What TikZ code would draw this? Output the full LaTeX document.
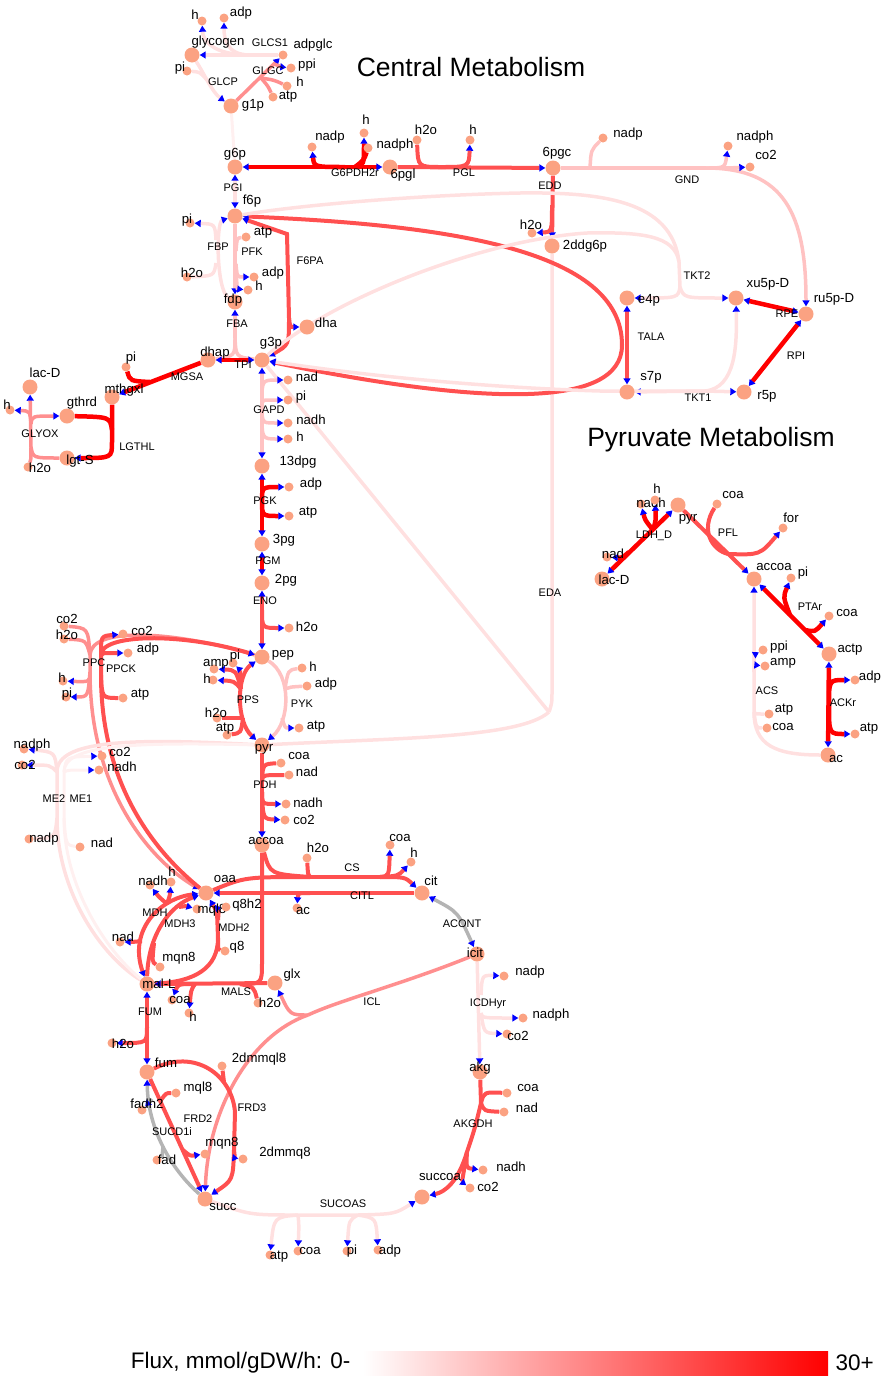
\documentclass[tikz,border=0pt]{standalone}
\usepackage{fontspec}
\setmainfont{Liberation Sans}
\usetikzlibrary{arrows.meta}
\pgfdeclarelayer{bg}
\pgfsetlayers{bg,main}

\definecolor{cA}{HTML}{FF0000}
\definecolor{cB}{HTML}{FF5050}
\definecolor{cC}{HTML}{FF8F8F}
\definecolor{cD}{HTML}{FFC2C2}
\definecolor{cE}{HTML}{FFE0E0}
\definecolor{cF}{HTML}{FFF0F0}
\definecolor{cG}{HTML}{B4B4B4}
\definecolor{metfill}{HTML}{FBA282}
\definecolor{tipblue}{HTML}{0000FF}

\tikzset{
  bigmet/.style={circle,fill=metfill,inner sep=0pt,minimum size=15pt},
  smallmet/.style={circle,fill=metfill,inner sep=0pt,minimum size=9pt},
  mlab/.style={inner sep=0pt,font=\fontsize{13.2}{14}\selectfont},
  rlab/.style={inner sep=0pt,font=\fontsize{11}{12}\selectfont},
  fA/.style={draw=cA,line width=4.5pt},
  fB/.style={draw=cB,line width=4pt},
  fC/.style={draw=cC,line width=3.5pt},
  fD/.style={draw=cD,line width=3.5pt},
  fE/.style={draw=cE,line width=3.5pt},
  fF/.style={draw=cF,line width=3pt},
  fG/.style={draw=cG,line width=3.5pt},
  ar/.style={-{Triangle[length=6pt,width=7pt,color=tipblue]}},
  ra/.style={{Triangle[length=6pt,width=7pt,color=tipblue]}-},
  rr/.style={{Triangle[length=6pt,width=7pt,color=tipblue]}-{Triangle[length=6pt,width=7pt,color=tipblue]}},
}

\newcommand{\metbig}[4]{\node[bigmet] (#1) at (#2) {};\node[mlab] (#1-t) at (#3) {#4};}
\newcommand{\metsmall}[4]{\node[smallmet] (#1) at (#2) {};\node[mlab] (#1-t) at (#3) {#4};}
\newcommand{\rxnlab}[3]{\node[rlab] (#1) at (#2) {#3};}

\begin{document}
\begin{tikzpicture}[x=1pt,y=-1pt]
\useasboundingbox (0,0) rectangle (883,1379);

% ---------- titles ----------
\node[font=\fontsize{26.5}{28}\selectfont] (title-c) at (471,67) {Central Metabolism};
\node[font=\fontsize{26.5}{28}\selectfont] (title-p) at (711,440) {Pyruvate Metabolism};

% ---------- metabolites ----------
% glycogen
\metbig{glycogen}{192,55}{218,42}{glycogen}
\metsmall{hA}{202,21}{195,15}{h}
\metsmall{adpA}{224,18}{241,13}{adp}
\metsmall{adpglc}{283,55}{313,45}{adpglc}
\metsmall{piA}{187,71}{180,68}{pi}
\metsmall{ppiA}{291,68}{307,65}{ppi}
\metsmall{hB}{287,86}{300,82}{h}
\metsmall{atpA}{273,97}{288,97}{atp}
\metbig{g1p}{231,106}{253,105}{g1p}
% oxidative PPP
\metbig{g6p}{235,167}{235,154}{g6p}
\metsmall{nadpA}{312,147}{330,137}{nadp}
\metsmall{hC}{364,133}{366,120}{h}
\metsmall{nadphA}{368,148}{395,145}{nadph}
\metbig{m6pgl}{390,167}{403,175}{6pgl}
\metsmall{h2oA}{417,140}{426,130}{h2o}
\metsmall{hD}{470,140}{473,130}{h}
\metbig{m6pgc}{553,168}{557,153}{6pgc}
\metsmall{nadpB}{603,138}{628,134}{nadp}
\metsmall{nadphB}{728,146}{755,137}{nadph}
\metsmall{co2A}{750,167}{766,155}{co2}
\metsmall{h2oB}{532,233}{531,225}{h2o}
\metbig{m2ddg6p}{552,246}{585,246}{2ddg6p}
% upper glycolysis
\metbig{f6p}{235,216}{252,201}{f6p}
\metsmall{piB}{190,223}{187,220}{pi}
\metsmall{atpB}{246,237}{263,233}{atp}
\metsmall{h2oC}{187,277}{192,273}{h2o}
\metsmall{adpB}{254,277}{273,273}{adp}
\metsmall{hE}{248,290}{259,286}{h}
\metbig{fdp}{235,302}{233,300}{fdp}
\metbig{dha}{307,327}{326,323}{dha}
\metbig{dhap}{208,360}{215,353}{dhap}
\metbig{g3p}{262,360}{271,343}{g3p}
% methylglyoxal pathway
\metbig{mthgxl}{112,397}{124,390}{mthgxl}
\metsmall{piC}{126,367}{131,358}{pi}
\metbig{lacDA}{30,387}{45,373}{lac-D}
\metsmall{hF}{10,410}{7,405}{h}
\metbig{gthrd}{67,416}{82,403}{gthrd}
\metbig{lgtS}{67,458}{80,461}{lgt-S}
\metsmall{h2oD}{28,467}{40,468}{h2o}
% non-oxidative PPP
\metbig{e4p}{627,298}{649,300}{e4p}
\metbig{s7p}{627,392}{651,377}{s7p}
\metbig{xu5p}{736,298}{768,284}{xu5p-D}
\metbig{ru5p}{806,314}{834,299}{ru5p-D}
\metbig{r5p}{744,392}{767,396}{r5p}
% lower glycolysis
\metsmall{nadA}{288,380}{307,377}{nad}
\metsmall{piD}{288,400}{301,397}{pi}
\metsmall{nadhA}{288,423}{311,420}{nadh}
\metsmall{hG}{288,439}{300,437}{h}
\metbig{m13dpg}{262,466}{298,462}{13dpg}
\metsmall{adpC}{289,487}{311,484}{adp}
\metsmall{atpC}{289,516}{308,513}{atp}
\metbig{m3pg}{262,544}{284,540}{3pg}
\metbig{m2pg}{262,583}{286,580}{2pg}
\metsmall{h2oE}{289,628}{307,627}{h2o}
\metbig{pep}{262,657}{283,655}{pep}
\metsmall{hH}{302,668}{313,667}{h}
\metsmall{adpD}{307,686}{326,684}{adp}
\metsmall{atpD}{299,728}{316,727}{atp}
\metsmall{piE}{233,663}{235,656}{pi}
\metsmall{ampA}{214,669}{216,664}{amp}
\metsmall{hI}{213,680}{207,679}{h}
\metsmall{h2oF}{217,718}{216,713}{h2o}
\metsmall{atpE}{227,735}{225,729}{atp}
\metbig{pyr}{262,745}{264,749}{pyr}
\metsmall{coaA}{281,763}{299,756}{coa}
\metsmall{nadB}{289,775}{307,772}{nad}
\metsmall{nadhB}{286,804}{308,803}{nadh}
\metsmall{co2B}{285,820}{304,820}{co2}
\metbig{accoa}{262,845}{266,841}{accoa}
% anaplerotic
\metsmall{co2C}{64,626}{67,619}{co2}
\metsmall{h2oG}{64,639}{67,635}{h2o}
\metsmall{hJ}{63,681}{62,678}{h}
\metsmall{piF}{66,697}{67,694}{pi}
\metsmall{co2D}{123,634}{142,631}{co2}
\metsmall{adpE}{128,653}{148,649}{adp}
\metsmall{atpF}{123,698}{140,695}{atp}
\metsmall{nadphC}{24,749}{32,745}{nadph}
\metsmall{co2E}{22,765}{25,765}{co2}
\metsmall{nadpC}{29,839}{44,839}{nadp}
\metsmall{co2F}{102,756}{120,752}{co2}
\metsmall{nadhC}{99,770}{122,767}{nadh}
\metsmall{nadC}{80,847}{102,843}{nad}
% TCA cycle
\metbig{oaa}{206,893}{225,879}{oaa}
\metsmall{h2oH}{307,858}{318,848}{h2o}
\metsmall{coaB}{390,845}{400,838}{coa}
\metsmall{hK}{411,862}{414,853}{h}
\metbig{cit}{422,893}{431,881}{cit}
\metsmall{acA}{297,908}{303,911}{ac}
\metsmall{hL}{171,882}{172,872}{h}
\metsmall{nadhD}{150,885}{153,881}{nadh}
\metsmall{mql8A}{197,909}{212,910}{mql8}
\metsmall{q8h2}{226,907}{247,905}{q8h2}
\metsmall{nadD}{120,942}{123,937}{nad}
\metsmall{mqn8A}{160,967}{179,958}{mqn8}
\metsmall{q8}{225,951}{237,947}{q8}
\metbig{malL}{147,984}{159,984}{mal-L}
\metsmall{coaC}{172,1000}{180,1000}{coa}
\metsmall{hM}{189,1013}{193,1017}{h}
\metsmall{h2oI}{258,1003}{270,1003}{h2o}
\metbig{glx}{275,983}{292,975}{glx}
\metbig{icit}{477,954}{475,953}{icit}
\metsmall{nadpD}{504,976}{530,972}{nadp}
\metsmall{nadphD}{523,1018}{551,1015}{nadph}
\metsmall{co2G}{507,1034}{518,1036}{co2}
\metbig{akg}{480,1072}{480,1068}{akg}
\metsmall{coaE}{507,1093}{528,1088}{coa}
\metsmall{nadE}{504,1112}{527,1108}{nad}
\metsmall{nadhE}{483,1170}{511,1167}{nadh}
\metsmall{co2H}{470,1188}{488,1187}{co2}
\metbig{succoa}{422,1197}{440,1177}{succoa}
\metsmall{h2oJ}{112,1043}{123,1044}{h2o}
\metbig{fum}{147,1072}{166,1063}{fum}
\metsmall{m2dmmql8}{222,1066}{259,1059}{2dmmql8}
\metsmall{mql8B}{176,1093}{198,1088}{mql8}
\metsmall{fadh2}{142,1110}{147,1104}{fadh2}
\metsmall{mqn8B}{205,1154}{222,1143}{mqn8}
\metsmall{fad}{157,1160}{167,1160}{fad}
\metsmall{m2dmmq8}{243,1159}{285,1153}{2dmmq8}
\metbig{succ}{205,1199}{223,1207}{succ}
\metsmall{atpG}{270,1255}{279,1257}{atp}
\metsmall{coaD}{298,1251}{310,1251}{coa}
\metsmall{piG}{347,1251}{352,1251}{pi}
\metsmall{adpF}{378,1250}{390,1251}{adp}
% pyruvate metabolism
\metbig{pyrB}{678,505}{688,519}{pyr}
\metsmall{nadhF}{641,504}{651,503}{nadh}
\metsmall{hN}{655,500}{657,489}{h}
\metsmall{nadF}{607,557}{613,554}{nad}
\metbig{lacDB}{602,579}{614,580}{lac-D}
\metsmall{coaF}{717,504}{733,495}{coa}
\metsmall{forA}{783,528}{791,518}{for}
\metbig{accoaB}{754,579}{774,567}{accoa}
\metsmall{piH}{791,578}{803,573}{pi}
\metsmall{coaG}{829,616}{847,613}{coa}
\metbig{actp}{829,654}{850,650}{actp}
\metsmall{adpG}{855,680}{870,677}{adp}
\metsmall{atpH}{855,734}{869,729}{atp}
\metbig{acB}{828,755}{836,759}{ac}
\metsmall{ppiB}{763,650}{779,647}{ppi}
\metsmall{ampB}{765,666}{783,663}{amp}
\metsmall{atpI}{769,714}{784,710}{atp}
\metsmall{coaH}{767,728}{783,727}{coa}

% ---------- reaction labels ----------
\rxnlab{r-GLCS1}{270,43}{GLCS1}
\rxnlab{r-GLGC}{268,71}{GLGC}
\rxnlab{r-GLCP}{223,82}{GLCP}
\rxnlab{r-G6PDH2r}{355,173}{G6PDH2r}
\rxnlab{r-PGL}{464,173}{PGL}
\rxnlab{r-EDD}{550,186}{EDD}
\rxnlab{r-GND}{687,180}{GND}
\rxnlab{r-PGI}{233,188}{PGI}
\rxnlab{r-FBP}{218,247}{FBP}
\rxnlab{r-PFK}{252,252}{PFK}
\rxnlab{r-F6PA}{310,261}{F6PA}
\rxnlab{r-FBA}{237,324}{FBA}
\rxnlab{r-TPI}{243,365}{TPI}
\rxnlab{r-MGSA}{187,377}{MGSA}
\rxnlab{r-GLYOX}{40,434}{GLYOX}
\rxnlab{r-LGTHL}{137,447}{LGTHL}
\rxnlab{r-TALA}{651,337}{TALA}
\rxnlab{r-TKT2}{697,276}{TKT2}
\rxnlab{r-TKT1}{698,398}{TKT1}
\rxnlab{r-RPE}{787,314}{RPE}
\rxnlab{r-RPI}{796,356}{RPI}
\rxnlab{r-GAPD}{269,410}{GAPD}
\rxnlab{r-PGK}{265,501}{PGK}
\rxnlab{r-PGM}{268,561}{PGM}
\rxnlab{r-ENO}{265,601}{ENO}
\rxnlab{r-EDA}{550,593}{EDA}
\rxnlab{r-PYK}{302,704}{PYK}
\rxnlab{r-PPS}{248,700}{PPS}
\rxnlab{r-PDH}{265,785}{PDH}
\rxnlab{r-PPC}{94,663}{PPC}
\rxnlab{r-PPCK}{121,669}{PPCK}
\rxnlab{r-ME2}{54,799}{ME2}
\rxnlab{r-ME1}{81,799}{ME1}
\rxnlab{r-CS}{352,868}{CS}
\rxnlab{r-CITL}{362,896}{CITL}
\rxnlab{r-ACONT}{462,924}{ACONT}
\rxnlab{r-MDH}{155,913}{MDH}
\rxnlab{r-MDH3}{180,924}{MDH3}
\rxnlab{r-MDH2}{234,928}{MDH2}
\rxnlab{r-MALS}{236,992}{MALS}
\rxnlab{r-ICL}{372,1002}{ICL}
\rxnlab{r-ICDHyr}{488,1004}{ICDHyr}
\rxnlab{r-AKGDH}{473,1124}{AKGDH}
\rxnlab{r-FUM}{150,1012}{FUM}
\rxnlab{r-FRD2}{198,1119}{FRD2}
\rxnlab{r-FRD3}{252,1108}{FRD3}
\rxnlab{r-SUCD1i}{172,1132}{SUCD1i}
\rxnlab{r-SUCOAS}{343,1204}{SUCOAS}
\rxnlab{r-LDHD}{654,536}{LDH\_D}
\rxnlab{r-PFL}{728,533}{PFL}
\rxnlab{r-PTAr}{810,607}{PTAr}
\rxnlab{r-ACKr}{843,703}{ACKr}
\rxnlab{r-ACS}{767,691}{ACS}

% ---------- flux scale ----------
\node[anchor=east,font=\fontsize{22.5}{24}\selectfont] (scale-t) at (354,1363) {Flux, mmol/gDW/h: 0-};
\shade[left color=white,right color=cA] (363,1351) rectangle (828,1375);
\node[anchor=west,font=\fontsize{22.5}{24}\selectfont] (scale-m) at (832,1363) {30+};

% ---------- reactions ----------
\begin{pgfonlayer}{bg}
% glycogen metabolism
\coordinate (glcsA) at (250,55);
\draw[fE,ar] (adpglc) -- (glycogen);
\draw[fE,ar] (glcsA) .. controls (226,55) and (224,38) .. (adpA);
\draw[fE,ar] (glcsA) .. controls (212,55) and (203,40) .. (hA);
\coordinate (glgcA) at (261,78); \coordinate (glgcB) at (274,64);
\draw[fC,ar] (g1p) -- (adpglc);
\draw[fC] (atpA) .. controls (268,86) .. (glgcA);
\draw[fC] (hB) .. controls (274,80) .. (glgcA);
\draw[fC,ar] (glgcB) .. controls (282,67) .. (ppiA);
\coordinate (glcpA) at (207,80);
\draw[fE,ar] (glycogen) .. controls (205,75) and (212,92) .. (g1p);
\draw[fE] (piA) .. controls (200,72) .. (glcpA);
\draw[fF] (g1p) -- (g6p);
% G6PDH2r
\coordinate (gpdA) at (345,167); \coordinate (gpdB) at (355,167);
\draw[fA,rr] (g6p) -- (m6pgl);
\draw[fA,ar] (gpdA) .. controls (314,167) .. (nadpA);
\draw[fA,ar] (gpdB) .. controls (364,165) .. (hC);
\draw[fA] (gpdB) .. controls (364,160) .. (nadphA);
% PGL
\coordinate (pglA) at (441,167);
\draw[fB,ar] (m6pgl) -- (m6pgc);
\draw[fB] (h2oA) .. controls (418,167) .. (pglA);
\draw[fB,ar] (pglA) .. controls (469,167) .. (hD);
% GND
\coordinate (gndA) at (590,168); \coordinate (gndB) at (706,168);
\draw[fD] (m6pgc) -- (gndB);
\draw[fD,ar] (gndB) .. controls (785,168) and (806,215) .. (ru5p);
\draw[fD] (gndA) .. controls (591,150) .. (nadpB);
\draw[fD,ar] (gndB) .. controls (725,168) .. (nadphB);
\draw[fD,ar] (gndB) .. controls (728,168) .. (co2A);
% EDD and EDA
\coordinate (eddA) at (552,205);
\draw[fB,ar] (m6pgc) -- (m2ddg6p);
\draw[fB,ar] (eddA) .. controls (552,232) .. (h2oB);
\coordinate (edaA) at (549,712); \coordinate (edaB) at (552,690);
\draw[fE] (m2ddg6p) -- (edaB) .. controls (552,703) .. (edaA);
\draw[fE] (edaA) -- (g3p);
\draw[fE] (edaA) .. controls (520,738) and (400,738) .. (pyr);
% PGI
\draw[fE,rr] (g6p) -- (f6p);
% PFK
\coordinate (pfkA) at (236,251); \coordinate (pfkB) at (236,264);
\draw[fD,ar] (f6p) -- (fdp);
\draw[fD] (atpB) .. controls (237,238) .. (pfkA);
\draw[fD,ar] (pfkB) .. controls (237,277) .. (adpB);
\draw[fD,ar] (pfkB) .. controls (237,289) .. (hE);
% FBP
\coordinate (fbpA) at (216,240); \coordinate (fbpB) at (216,263);
\draw[fE,ar] (fdp) .. controls (216,290) and (216,222) .. (f6p);
\draw[fE,ar] (fbpA) .. controls (215,224) .. (piB);
\draw[fE] (h2oC) .. controls (214,276) .. (fbpB);
% FBA
\coordinate (fbaA) at (235,338);
\draw[fD,ar] (fbaA) -- (fdp);
\draw[fD] (fbaA) .. controls (235,356) .. (dhap);
\draw[fD] (fbaA) .. controls (236,357) .. (g3p);
% F6PA
\coordinate (fpaA) at (287,234); \coordinate (fpaB) at (289,318);
\draw[fB,ar] (fpaB) -- (fpaA) -- (f6p);
\draw[fB,ar] (fpaB) .. controls (290,327) .. (dha);
\draw[fB,ar] (fpaB) .. controls (289,345) .. (g3p);
% TPI
\draw[fA,rr] (dhap) -- (g3p);
% MGSA
\coordinate (mgsaA) at (150,382);
\draw[fA,ar] (dhap) -- (mthgxl);
\draw[fA] (piC) .. controls (130,381) .. (mgsaA);
% LGTHL
\coordinate (lgtA) at (112,430); \coordinate (lgtB) at (112,442);
\draw[fA,ar] (mthgxl) -- (lgtB) .. controls (112,458) .. (lgtS);
\draw[fA] (gthrd) .. controls (110,417) .. (lgtA);
% GLYOX
\coordinate (gxA) at (31,424); \coordinate (gxB) at (31,447);
\draw[fC,ar] (gxB) -- (lacDA);
\draw[fC] (h2oD) .. controls (31,460) .. (gxB);
\draw[fC] (lgtS) .. controls (33,458) .. (gxB);
\draw[fC,ar] (gxA) .. controls (32,416) .. (gthrd);
\draw[fC,ar] (gxA) .. controls (30,411) .. (hF);
% TALA
\coordinate (talaA) at (622,345);
\draw[fB,rr] (e4p) -- (s7p);
\draw[fB,ar] (talaA) .. controls (622,250) and (450,225) .. (f6p);
\draw[fB,ar] (talaA) .. controls (622,410) and (480,405) .. (g3p);
% TKT2
\coordinate (tktA) at (680,287); \coordinate (tktB) at (679,262);
\coordinate (tktC) at (520,193); \coordinate (tktD) at (587,233);
\draw[fE,ar] (tktA) .. controls (678,298) .. (e4p);
\draw[fE,ar] (tktA) .. controls (684,298) .. (xu5p);
\draw[fE] (tktA) -- (tktB);
\draw[fE] (tktB) .. controls (672,200) and (600,192) .. (tktC) .. controls (420,195) and (300,205) .. (f6p);
\draw[fE] (tktB) .. controls (675,235) and (640,232) .. (tktD) .. controls (480,240) and (330,300) .. (g3p);
% TKT1
\coordinate (tkoA) at (705,391); \coordinate (tkoB) at (600,391);
\draw[fE,ar] (tkoA) -- (r5p);
\draw[fE,ar] (tkoA) -- (s7p);
\draw[fE,ar] (tkoA) -- (tkoB) .. controls (500,388) and (380,378) .. (g3p);
\draw[fE,ar] (tkoA) .. controls (736,388) and (737,345) .. (xu5p);
% RPE, RPI
\draw[fA,rr] (xu5p) -- (ru5p);
\draw[fA,rr] (r5p) -- (ru5p);
% GAPD
\coordinate (gapA) at (262,402); \coordinate (gapB) at (262,414);
\draw[fD,rr] (g3p) -- (m13dpg);
\draw[fD,ar] (gapA) .. controls (262,380) .. (nadA);
\draw[fD,ar] (gapA) .. controls (263,400) .. (piD);
\draw[fD,ar] (gapB) .. controls (263,423) .. (nadhA);
\draw[fD,ar] (gapB) .. controls (262,439) .. (hG);
% PGK, PGM, ENO
\coordinate (pgkA) at (262,501);
\draw[fA,rr] (m13dpg) -- (m3pg);
\draw[fA,ar] (pgkA) .. controls (262,487) .. (adpC);
\draw[fA,ar] (pgkA) .. controls (262,516) .. (atpC);
\draw[fA,rr] (m3pg) -- (m2pg);
\coordinate (enoA) at (262,610);
\draw[fB,rr] (m2pg) -- (pep);
\draw[fB,ar] (enoA) .. controls (262,628) .. (h2oE);
% PYK
\coordinate (pykA) at (285,689); \coordinate (pykB) at (282,718);
\draw[fD,ar] (pep) .. controls (292,675) and (290,722) .. (pyr);
\draw[fD] (hH) .. controls (288,670) .. (pykA);
\draw[fD] (adpD) .. controls (290,687) .. (pykA);
\draw[fD,ar] (pykB) .. controls (285,728) .. (atpD);
% PPS
\coordinate (ppsA) at (241,689); \coordinate (ppsB) at (243,718);
\draw[fB,rr] (pep) .. controls (236,675) and (236,722) .. (pyr);
\draw[fB,ar] (ppsA) .. controls (240,670) .. (piE);
\draw[fB,ar] (ppsA) .. controls (236,670) .. (ampA);
\draw[fB,ar] (ppsA) .. controls (234,681) .. (hI);
\draw[fB] (h2oF) .. controls (238,718) .. (ppsB);
\draw[fB] (atpE) .. controls (241,733) .. (ppsB);
% PDH
\coordinate (pdhA) at (262,780); \coordinate (pdhB) at (262,792);
\draw[fB,ar] (pyr) -- (accoa);
\draw[fB] (coaA) .. controls (263,764) .. (pdhA);
\draw[fB] (nadB) .. controls (263,775) .. (pdhA);
\draw[fB,ar] (pdhB) .. controls (262,804) .. (nadhB);
\draw[fB,ar] (pdhB) .. controls (263,819) .. (co2B);
% PPC
\coordinate (ppcA) at (90,655); \coordinate (ppcB) at (90,672);
\draw[fC,ar] (pep) .. controls (170,630) and (91,627) .. (ppcA) -- (ppcB) .. controls (90,790) and (150,860) .. (oaa);
\draw[fC] (co2C) .. controls (88,628) .. (ppcA);
\draw[fC] (h2oG) .. controls (86,640) .. (ppcA);
\draw[fC,ar] (ppcB) .. controls (90,682) .. (hJ);
\draw[fC,ar] (ppcB) .. controls (88,697) .. (piF);
% PPCK
\coordinate (pckA) at (101,655); \coordinate (pckB) at (101,675);
\draw[fB,ar] (oaa) .. controls (160,856) and (101,790) .. (pckB) -- (pckA) .. controls (101,634) and (180,632) .. (pep);
\draw[fB,ar] (pckA) .. controls (101,636) .. (co2D);
\draw[fB,ar] (pckA) .. controls (102,653) .. (adpE);
\draw[fB] (atpF) .. controls (102,698) .. (pckB);
% ME1, ME2
\coordinate (meaA) at (57,772); \coordinate (meaB) at (57,818);
\coordinate (mebA) at (64,772); \coordinate (mebB) at (64,818);
\draw[fE] (malL) .. controls (100,955) and (57,890) .. (meaB) -- (meaA) .. controls (57,740) and (130,738) .. (pyr);
\draw[fF] (malL) .. controls (105,950) and (64,885) .. (mebB) -- (mebA) .. controls (64,745) and (130,742) .. (pyr);
\draw[fE,ar] (meaA) .. controls (55,752) .. (nadphC);
\draw[fE,ar] (meaA) .. controls (50,765) .. (co2E);
\draw[fE] (nadpC) .. controls (55,838) .. (meaB);
\draw[fF,ar] (mebA) .. controls (66,757) .. (co2F);
\draw[fF,ar] (mebA) .. controls (68,770) .. (nadhC);
\draw[fF] (nadC) .. controls (66,845) .. (mebB);
% CS
\coordinate (csA) at (310,877); \coordinate (csB) at (380,877);
\draw[fB] (accoa) .. controls (270,874) .. (csA);
\draw[fB] (oaa) .. controls (245,877) .. (csA);
\draw[fB] (csA) -- (csB);
\draw[fB,ar] (csB) .. controls (405,877) .. (cit);
\draw[fB] (h2oH) .. controls (308,875) .. (csA);
\draw[fB,ar] (csB) .. controls (389,876) .. (coaB);
\draw[fB,ar] (csB) .. controls (398,876) .. (hK);
% CITL
\coordinate (citlA) at (310,893);
\draw[fB,ar] (cit) -- (oaa);
\draw[fB,ar] (citlA) .. controls (298,893) .. (acA);
% ACONT
\draw[fG,rr] (cit) .. controls (458,912) .. (icit);
% MDH
\coordinate (mdhA) at (142,941); \coordinate (mdhB) at (167,904);
\draw[fB,rr] (malL) .. controls (128,930) and (160,898) .. (oaa);
\draw[fB,ar] (mdhA) .. controls (132,942) .. (nadD);
\draw[fB,ar] (mdhB) .. controls (158,896) .. (nadhD);
\draw[fB,ar] (mdhB) .. controls (170,895) .. (hL);
% MDH3
\coordinate (mdtA) at (154,943); \coordinate (mdtB) at (179,907);
\draw[fB,ar] (malL) .. controls (148,935) and (170,905) .. (oaa);
\draw[fB] (mqn8A) .. controls (152,962) .. (mdtA);
\draw[fB,ar] (mdtB) .. controls (186,906) .. (mql8A);
% MDH2
\coordinate (mdwA) at (218,938); \coordinate (mdwB) at (218,920); \coordinate (mdwC) at (217,912);
\draw[fB,ar] (malL) .. controls (195,982) and (218,968) .. (mdwA) -- (mdwC) -- (oaa);
\draw[fB] (q8) .. controls (218,950) .. (mdwA);
\draw[fB,ar] (mdwB) .. controls (219,908) .. (q8h2);
% MALS
\coordinate (malsA) at (240,984); \coordinate (malsB) at (195,984); \coordinate (malsC) at (262,962);
\draw[fB,ar] (glx) -- (malL);
\draw[fB] (accoa) -- (malsC) .. controls (262,984) .. (malsA);
\draw[fB] (h2oI) .. controls (254,987) .. (malsA);
\draw[fB,ar] (malsB) .. controls (178,984) .. (coaC);
\draw[fB,ar] (malsB) .. controls (191,990) .. (hM);
% ICL
\coordinate (iclA) at (308,1015);
\draw[fC] (icit) .. controls (400,985) and (340,1000) .. (iclA);
\draw[fC,ar] (iclA) .. controls (290,1015) .. (glx);
\draw[fC,ar] (iclA) .. controls (250,1035) and (208,1110) .. (succ);
% FUM
\coordinate (fumA) at (147,1027);
\draw[fB,rr] (malL) -- (fum);
\draw[fB,ar] (fumA) .. controls (147,1043) .. (h2oJ);
% FRD2
\coordinate (frdA) at (161,1100); \coordinate (frdB) at (183,1150);
\draw[fB,ar] (fum) -- (succ);
\draw[fB] (mql8B) .. controls (166,1093) .. (frdA);
\draw[fB,ar] (frdB) .. controls (190,1156) .. (mqn8B);
% FRD3
\coordinate (frtA) at (235,1112); \coordinate (frtB) at (234,1150); \coordinate (frtC) at (224,1082);
\draw[fB,ar] (fum) .. controls (195,1048) and (232,1075) .. (frtA) -- (frtB) .. controls (233,1180) .. (succ);
\draw[fB] (m2dmmql8) -- (frtC);
\draw[fB,ar] (frtB) .. controls (235,1158) .. (m2dmmq8);
% SUCD1i
\coordinate (sdA) at (152,1099); \coordinate (sdB) at (163,1146);
\draw[fG,ar] (succ) .. controls (172,1170) and (148,1130) .. (fum);
\draw[fG,ar] (sdA) -- (fadh2);
\draw[fG] (fad) .. controls (162,1158) .. (sdB);
% SUCOAS
\coordinate (sucA) at (298,1215); \coordinate (sucB) at (358,1215);
\draw[fE,ar] (succ) .. controls (250,1215) .. (sucA) -- (sucB) .. controls (395,1214) .. (succoa);
\draw[fE,ar] (sucA) .. controls (274,1217) .. (atpG);
\draw[fE,ar] (sucA) .. controls (299,1225) .. (coaD);
\draw[fE,ar] (sucB) .. controls (349,1220) .. (piG);
\draw[fE,ar] (sucB) .. controls (376,1218) .. (adpF);
% ICDHyr
\coordinate (icdA) at (481,995); \coordinate (icdB) at (481,1013);
\draw[fE,ar] (icit) -- (akg);
\draw[fE,ar] (icdA) .. controls (482,975) .. (nadpD);
\draw[fE,ar] (icdB) .. controls (482,1018) .. (nadphD);
\draw[fE,ar] (icdB) .. controls (484,1033) .. (co2G);
% AKGDH
\coordinate (akgA) at (481,1103); \coordinate (akgB) at (467,1152);
\draw[fB,ar] (akg) -- (akgA) .. controls (475,1128) .. (akgB) .. controls (458,1182) and (445,1192) .. (succoa);
\draw[fB] (coaE) .. controls (484,1092) .. (akgA);
\draw[fB] (nadE) .. controls (484,1111) .. (akgA);
\draw[fB,ar] (akgB) .. controls (466,1168) .. (nadhE);
\draw[fB,ar] (akgB) .. controls (462,1182) .. (co2H);
% LDH_D
\coordinate (ldhA) at (653,530); \coordinate (ldhB) at (629,552);
\draw[fA,rr] (pyrB) -- (lacDB);
\draw[fA,ar] (ldhA) .. controls (645,520) .. (nadhF);
\draw[fA,ar] (ldhA) .. controls (656,520) .. (hN);
\draw[fA,ar] (ldhB) .. controls (622,558) .. (nadF);
% PFL
\coordinate (pflA) at (728,554);
\draw[fB,ar] (pyrB) -- (accoaB);
\draw[fB] (coaF) .. controls (700,530) and (712,550) .. (pflA);
\draw[fB,ar] (pflA) .. controls (760,555) .. (forA);
% PTAr
\coordinate (ptaA) at (790,615); \coordinate (ptaB) at (805,630);
\draw[fA,rr] (accoaB) -- (actp);
\draw[fA,ar] (ptaA) .. controls (783,597) .. (piH);
\draw[fA,ar] (ptaB) .. controls (815,632) .. (coaG);
% ACKr
\coordinate (ackA) at (829,705);
\draw[fA,rr] (actp) -- (acB);
\draw[fA,ar] (ackA) .. controls (829,680) .. (adpG);
\draw[fA,ar] (ackA) .. controls (829,734) .. (atpH);
% ACS
\coordinate (acsA) at (754,712); \coordinate (acsB) at (754,672);
\draw[fE,ar] (acB) .. controls (775,755) and (754,745) .. (acsA) -- (accoaB);
\draw[fE] (atpI) .. controls (755,714) .. (acsA);
\draw[fE] (coaH) .. controls (756,728) .. (acsA);
\draw[fE,ar] (acsB) .. controls (754,655) .. (ppiB);
\draw[fE,ar] (acsB) .. controls (755,665) .. (ampB);
\end{pgfonlayer}
\end{tikzpicture}
\end{document}
